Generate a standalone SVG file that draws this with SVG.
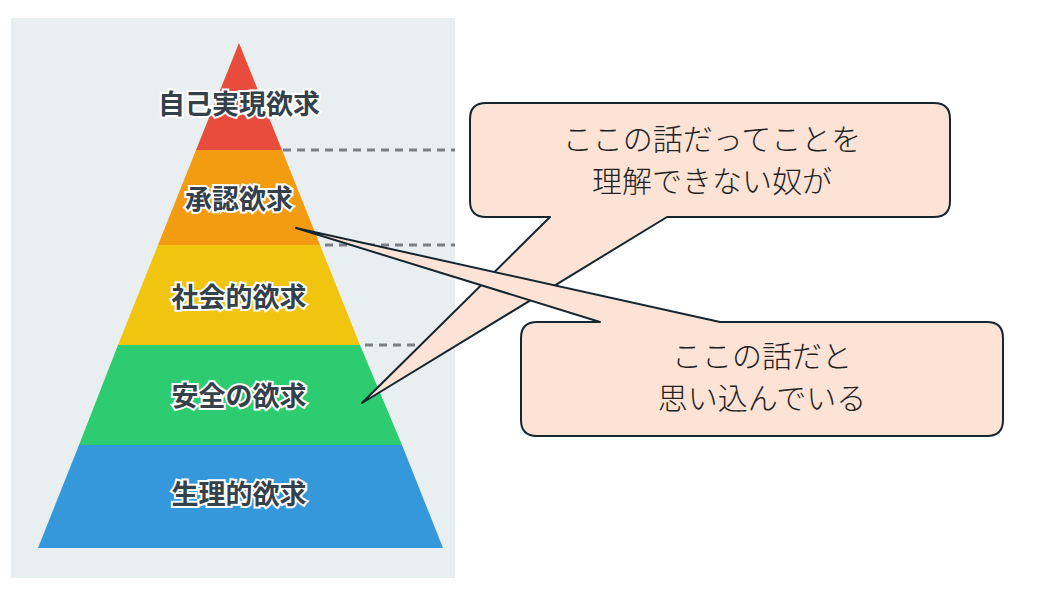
<svg xmlns="http://www.w3.org/2000/svg" width="1039" height="589" viewBox="0 0 1039 589">
<style>
.lbl{font-family:"Noto Sans CJK JP",sans-serif;font-size:27px;font-weight:700;fill:#34404a;stroke:#fff;stroke-width:4;paint-order:stroke;text-anchor:middle}
.dash{stroke:#7a7f84;stroke-width:3;stroke-dasharray:8 6;fill:none}
.call{fill:#fce3d5;stroke:#152630;stroke-width:2;stroke-linejoin:round}
.ct{font-family:"Noto Sans CJK JP",sans-serif;font-size:30px;font-weight:300;fill:#222;text-anchor:middle}
</style>
<rect width="1039" height="589" fill="#fff"/>
<g id="panel">
<rect x="11" y="18" width="444" height="560" fill="#e9eef0"/>
<g id="dashes">
<line class="dash" x1="283" y1="150" x2="455" y2="150"/>
<line class="dash" x1="325" y1="245" x2="455" y2="245"/>
<line class="dash" x1="365" y1="345" x2="455" y2="345"/>
</g>
</g>
<g id="pyramid">
<polygon points="239,43 282,150 196,150" fill="#e74c3c"/>
<polygon points="196,150 282,150 320,245 158,245" fill="#f39c12"/>
<polygon points="158,245 320,245 360,345 118,345" fill="#f1c40f"/>
<polygon points="118,345 360,345 402,445 79,445" fill="#2ecc71"/>
<polygon points="79,445 402,445 443,548 38,548" fill="#3498db"/>
</g>
<g id="n1"><text class="lbl" x="239" y="114">自己実現欲求</text></g>
<g id="n2"><text class="lbl" x="239" y="209">承認欲求</text></g>
<g id="n3"><text class="lbl" x="239" y="307">社会的欲求</text></g>
<g id="n4"><text class="lbl" x="239" y="406">安全の欲求</text></g>
<g id="n5"><text class="lbl" x="239" y="504">生理的欲求</text></g>
<g id="connectors">
<g id="callout1">
<path class="call" d="M486,103 H934 Q950,103 950,119 V201 Q950,217 934,217 H667 L362,403 L550,217 H486 Q470,217 470,201 V119 Q470,103 486,103 Z"/>
<text class="ct" x="712" y="150">ここの話だってことを</text>
<text class="ct" x="712" y="192">理解できない奴が</text>
</g>
<g id="callout2">
<path class="call" d="M537,322 H600 L296,228 L720,322 H987 Q1003,322 1003,338 V420 Q1003,436 987,436 H537 Q521,436 521,420 V338 Q521,322 537,322 Z"/>
<text class="ct" x="762" y="367">ここの話だと</text>
<text class="ct" x="762" y="409">思い込んでいる</text>
</g>
</g>
</svg>
